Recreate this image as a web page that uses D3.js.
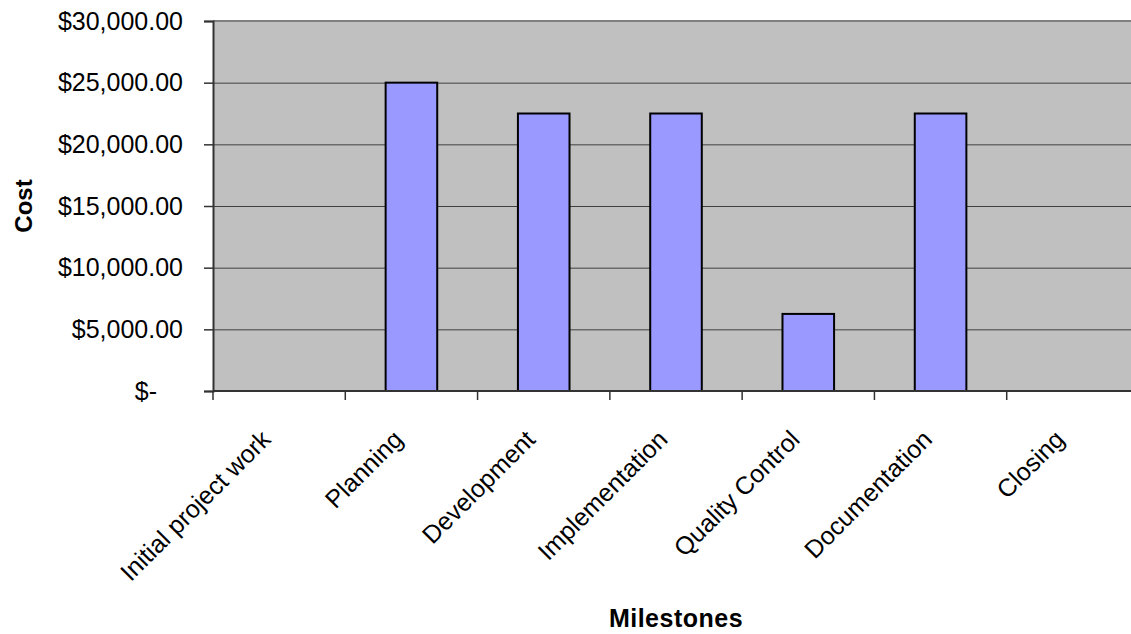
<!DOCTYPE html>
<html>
<head>
<meta charset="utf-8">
<script src="https://cdn.jsdelivr.net/npm/d3@7"></script>
<style>
  html, body { margin: 0; padding: 0; background: #ffffff; }
  svg { display: block; }
  svg text { font-family: "Liberation Sans", Arial, sans-serif; }
</style>
</head>
<body>
<svg id="chart" width="1131" height="634"></svg>
<script>
// Milestone cost data
const milestones = ["Initial project work", "Planning", "Development", "Implementation", "Quality Control", "Documentation", "Closing"];
const costs = [0, 25000, 22500, 22500, 6250, 22500, 0];
const yTicks = [0, 5000, 10000, 15000, 20000, 25000, 30000];

const svg = d3.select("#chart");
const plotLeft = 213, plotRight = 1139, plotTop = 21, plotBottom = 391;

const x = d3.scaleBand()
  .domain(milestones)
  .range([plotLeft, plotRight])
  .paddingInner(0.61)
  .paddingOuter(0.305);

const y = d3.scaleLinear().domain([0, 30000]).range([plotBottom, plotTop]);

// Plot area background
svg.append("rect")
  .attr("x", plotLeft).attr("y", plotTop)
  .attr("width", plotRight - plotLeft).attr("height", plotBottom - plotTop)
  .attr("fill", "#c0c0c0");

// Horizontal gridlines
svg.append("g")
  .selectAll("line")
  .data(yTicks.filter(v => v > 0 && v < 30000))
  .join("line")
  .attr("x1", plotLeft).attr("x2", plotRight)
  .attr("y1", d => y(d) + 0.5).attr("y2", d => y(d) + 0.5)
  .attr("stroke", "#404040").attr("stroke-width", 1);

// Top border of the plot area
svg.append("line")
  .attr("x1", plotLeft).attr("x2", plotRight)
  .attr("y1", y(30000)).attr("y2", y(30000))
  .attr("stroke", "#808080").attr("stroke-width", 2);

// Bars
svg.append("g")
  .selectAll("rect")
  .data(milestones.map((m, i) => ({ m, v: costs[i] })).filter(d => d.v > 0))
  .join("rect")
  .attr("x", d => x(d.m))
  .attr("y", d => y(d.v))
  .attr("width", x.bandwidth())
  .attr("height", d => y(0) - y(d.v))
  .attr("fill", "#9999ff")
  .attr("stroke", "#000000")
  .attr("stroke-width", 2);

// Y axis (accounting-style labels: zero shows as "$-")
const fmt = v => v === 0 ? "$-" : "$" + d3.format(",.2f")(v);
const yAxis = svg.append("g")
  .attr("transform", `translate(${plotLeft},0)`)
  .call(d3.axisLeft(y).tickValues(yTicks).tickFormat(fmt).tickSize(9).tickPadding(21));
yAxis.attr("font-family", null).attr("font-size", null);
yAxis.select(".domain").attr("stroke", "#333333").attr("stroke-width", 2);
yAxis.selectAll(".tick line").attr("stroke", "#333333").attr("stroke-width", 1.5);
yAxis.selectAll(".tick text")
  .attr("font-size", 25)
  .attr("fill", "#000")
  .attr("dx", d => d === 0 ? -26 : 0);

// X axis baseline and category boundary ticks
svg.append("line")
  .attr("x1", plotLeft).attr("x2", plotRight)
  .attr("y1", plotBottom).attr("y2", plotBottom)
  .attr("stroke", "#333333").attr("stroke-width", 2);

svg.append("g")
  .selectAll("line")
  .data(d3.range(milestones.length + 1))
  .join("line")
  .attr("x1", i => plotLeft + i * x.step()).attr("x2", i => plotLeft + i * x.step())
  .attr("y1", plotBottom).attr("y2", plotBottom + 9)
  .attr("stroke", "#333333").attr("stroke-width", 1.5);

// Rotated category labels
svg.append("g")
  .selectAll("text")
  .data(milestones)
  .join("text")
  .attr("transform", d => `translate(${x(d) + x.bandwidth() / 2 - 7},${plotBottom + 50}) rotate(-45)`)
  .attr("text-anchor", "end")
  .attr("font-size", 25)
  .attr("fill", "#000")
  .text(d => d);

// Axis titles
svg.append("text")
  .attr("transform", `translate(32,206) rotate(-90)`)
  .attr("text-anchor", "middle")
  .attr("font-size", 24)
  .attr("font-weight", "bold")
  .text("Cost");

svg.append("text")
  .attr("x", 676).attr("y", 627)
  .attr("text-anchor", "middle")
  .attr("font-size", 25)
  .attr("font-weight", "bold")
  .attr("letter-spacing", 0.5)
  .text("Milestones");
</script>
</body>
</html>
